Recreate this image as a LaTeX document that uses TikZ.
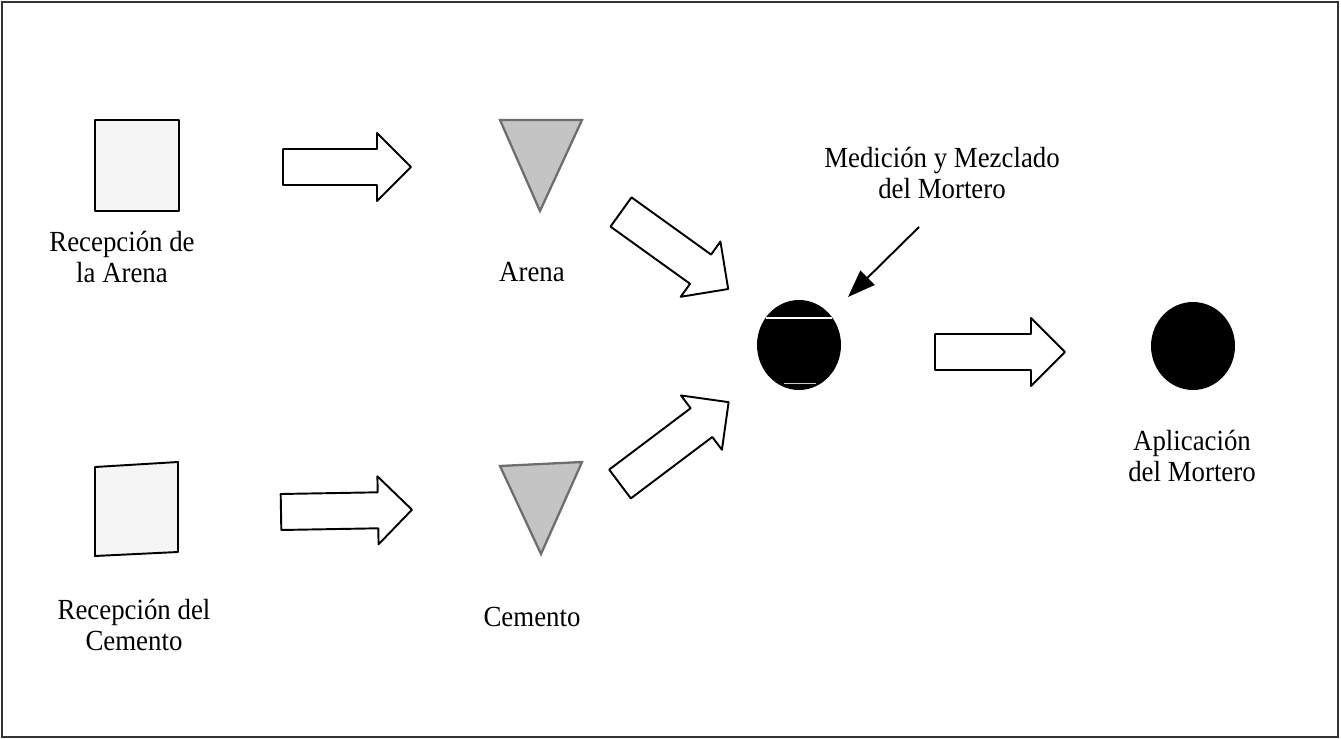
\documentclass[tikz,border=0pt]{standalone}
\usepackage{fontspec}
\setmainfont{Liberation Serif}[FakeStretch=0.92]
\usetikzlibrary{arrows.meta}
\definecolor{trifill}{HTML}{C4C4C4}
\definecolor{tristroke}{HTML}{6E6E6E}
\definecolor{sqfill}{HTML}{F5F5F5}
\definecolor{framecol}{HTML}{333333}
\tikzset{
  lbl/.style={align=center, inner sep=0pt, font=\fontsize{16.6}{17.6}\selectfont},
  sqbox/.style={draw=black, fill=sqfill, line width=1.1pt, line join=round},
  tri/.style={draw=tristroke, fill=trifill, line width=1.3pt, line join=miter},
  barrow/.style={draw=black, fill=white, line width=1.1pt, line join=round},
  pics/blockarrow/.style={code={
    \path[barrow] (0,-18) -- (#1-34,-18) -- (#1-34,-34) -- (#1,0) -- (#1-34,34) -- (#1-34,18) -- (0,18) -- cycle;
  }},
  dot/.style={fill=black},
}
\begin{document}
\begin{tikzpicture}[x=0.02cm,y=-0.02cm]
\useasboundingbox (0,0) rectangle (1341,739);
\draw[framecol, line width=1.2pt] (2,2) rectangle (1338,737);

% squares
\node[sqbox, minimum width=1.68cm, minimum height=1.82cm, inner sep=0pt] (s1) at (137,165.5) {};
\draw[sqbox] (95,467) -- (178,462) -- (178,552) -- (95,556) -- cycle;
\coordinate (s2) at (136.5,509);

% triangles
\draw[tri] (500,120) -- (582,120) -- (540,211) -- cycle;
\coordinate (t1) at (540,150);
\draw[tri] (500,466) -- (582,462) -- (541,554) -- cycle;
\coordinate (t2) at (541,494);

% circles
\fill[dot] (799,345) ellipse [x radius=0.84cm, y radius=0.9cm];
\draw[white, line width=0.6pt] (766,318) -- (832,318);
\draw[white!80!black, line width=0.5pt] (784,383) -- (816,383);
\coordinate (c1) at (799,345);
\fill[dot] (1193,346) ellipse [x radius=0.84cm, y radius=0.88cm];
\coordinate (c2) at (1193,346);

% block arrows
\pic at (283,167) {blockarrow=128};
\pic[rotate=1] at (281,512) {blockarrow=131};
\pic at (935,352) {blockarrow=130};
\pic[rotate=-35.7] at (621,212) {blockarrow=132};
\pic[rotate=37] at (620,484) {blockarrow=136};

% labels
\node[lbl] (l1) at (122,257) {Recepción de\\la Arena};
\node[lbl] (l2) at (532,272) {Arena};
\node[lbl] (l3) at (134,625) {Recepción del\\Cemento};
\node[lbl] (l4) at (532,617) {Cemento};
\node[lbl] (l5) at (942,173) {Medición y Mezclado\\del Mortero};
\node[lbl] (l6) at (1192,456) {Aplicación\\del Mortero};

% thin arrow
\coordinate (ms) at (919,227);
\coordinate (me) at (848,297);
\draw[line width=1.1pt, -{Triangle[length=0.55cm, width=0.4cm]}] (ms) -- (me);
\end{tikzpicture}
\end{document}
